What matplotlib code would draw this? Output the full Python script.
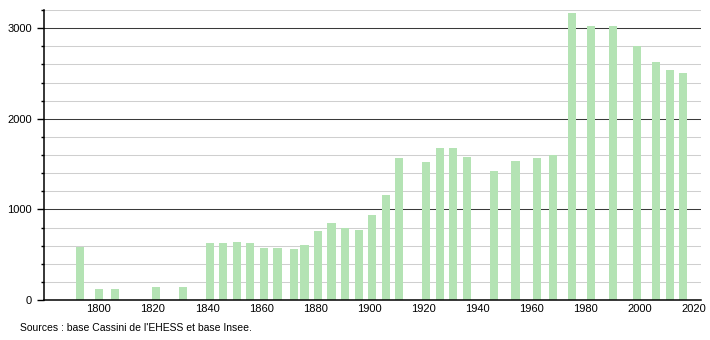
import numpy as np
import matplotlib
matplotlib.use('Agg')
import matplotlib.pyplot as plt

years = [1793, 1800, 1806, 1821, 1831, 1841, 1846, 1851, 1856, 1861, 1866,
         1872, 1876, 1881, 1886, 1891, 1896, 1901, 1906, 1911, 1921, 1926,
         1931, 1936, 1946, 1954, 1962, 1968, 1975, 1982, 1990, 1999, 2006,
         2011, 2016]
population = [590, 125, 125, 145, 145, 632, 632, 645, 632, 576, 576,
              565, 610, 758, 855, 795, 770, 940, 1160, 1565, 1520, 1675,
              1675, 1580, 1420, 1530, 1565, 1600, 3165, 3025, 3025, 2805, 2625,
              2540, 2505]
x_ticks = list(range(1800, 2021, 20))
source = "Sources : base Cassini de l'EHESS et base Insee."

plt.rcParams['font.family'] = ['Liberation Sans', 'DejaVu Sans']

fig = plt.figure(figsize=(7.1, 3.4), dpi=100)
ax = fig.add_axes([0.062, 0.1176, 0.925, 0.853])

# light grid every 200, dark line every 1000
for v in range(200, 3201, 200):
    if v % 1000 == 0:
        ax.axhline(v, color='#3a3a3a', lw=0.75, zorder=1)
    else:
        ax.axhline(v, color='#cfcfcf', lw=0.75, zorder=1)

ax.bar(years, population, width=3.0, color='#b4e3b4', zorder=2)

ax.set_xlim(1779.7, 2022.5)
ax.set_ylim(0, 3200)
ax.set_xticks(x_ticks)
ax.set_yticks([0, 1000, 2000, 3000])
ax.set_yticks(range(0, 3201, 200), minor=True)
ax.tick_params(axis='x', length=0, labelsize=8, pad=3)
ax.tick_params(axis='y', which='major', length=5, width=1, labelsize=8)
ax.tick_params(axis='y', which='minor', length=2.5, width=1)

for s in ['top', 'right']:
    ax.spines[s].set_visible(False)
ax.spines['left'].set_linewidth(1.1)
ax.spines['bottom'].set_linewidth(1.1)

fig.text(0.028, 0.035, source, fontsize=7.5, ha='left', va='center')

fig.savefig('out.png', dpi=100)
